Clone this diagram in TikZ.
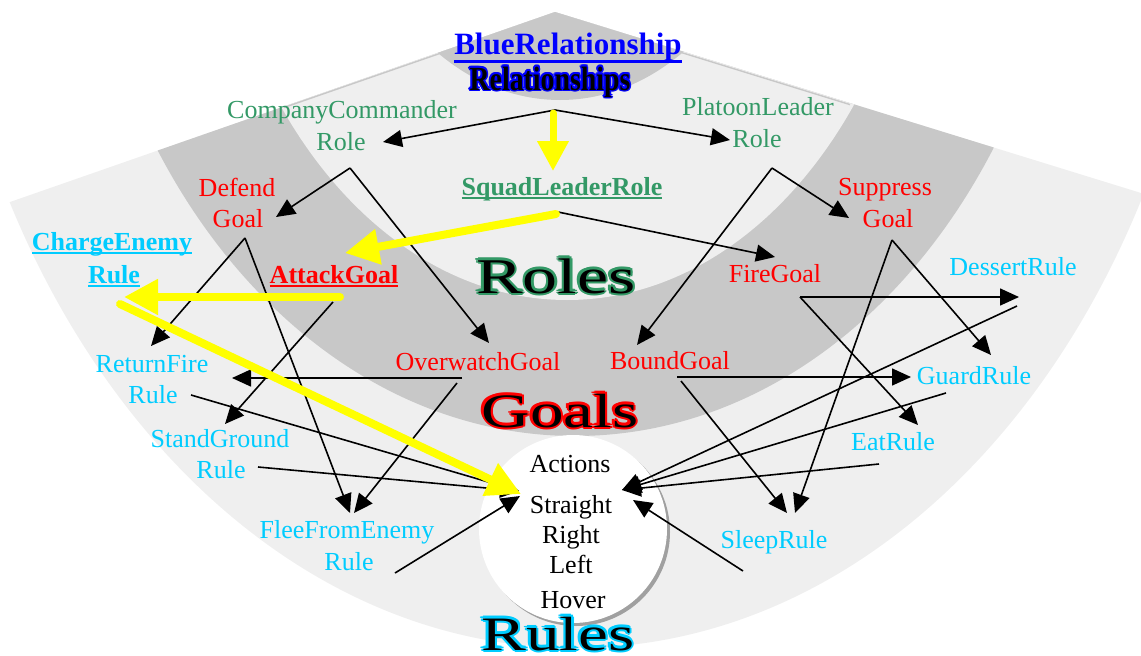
\documentclass[tikz,border=0pt]{standalone}
\usepackage{fontspec}
\setmainfont{Liberation Serif}
\newfontfamily\artfont{Liberation Serif}[FakeStretch=1.4]
\newfontfamily\relfont{Liberation Serif}[FakeStretch=1.07]
\usetikzlibrary{arrows.meta}
\definecolor{lg}{HTML}{EFEFEF}
\definecolor{dg}{HTML}{C8C8C8}
\definecolor{rimgray}{HTML}{C8C8C8}
\definecolor{rolegreen}{HTML}{339966}
\definecolor{goalred}{HTML}{FF0000}
\definecolor{rulecyan}{HTML}{00CCFF}
\definecolor{relblue}{HTML}{0000FF}
\definecolor{arrowyellow}{HTML}{FFFF00}
\definecolor{shadowgray}{HTML}{A0A0A0}
\newsavebox\ulbox
\newcommand\ulwith[3]{\sbox\ulbox{#3}\rlap{\rule[-#1]{\wd\ulbox}{#2}}\usebox\ulbox}
\newcommand\artlayer[4]{\rlap{\textcolor{#1}{\kern#2\raisebox{#3}{#4}}}}
\newcommand\artword[3][2.2pt]{\leavevmode
 \artlayer{#2}{#1}{0pt}{#3}%
 \artlayer{#2}{-#1}{0pt}{#3}%
 \artlayer{#2}{0pt}{#1}{#3}%
 \artlayer{#2}{0pt}{-#1}{#3}%
 \artlayer{#2}{\dimexpr#1*7/10\relax}{\dimexpr#1*7/10\relax}{#3}%
 \artlayer{#2}{-\dimexpr#1*7/10\relax}{\dimexpr#1*7/10\relax}{#3}%
 \artlayer{#2}{\dimexpr#1*7/10\relax}{-\dimexpr#1*7/10\relax}{#3}%
 \artlayer{#2}{-\dimexpr#1*7/10\relax}{-\dimexpr#1*7/10\relax}{#3}%
 \artlayer{#2}{-\dimexpr#1*13/10\relax}{\dimexpr#1*5/10\relax}{#3}%
 #3}
\tikzset{
 lbl/.style={inner sep=0pt, anchor=base, font=\fontsize{26}{31}\selectfont},
 boldlbl/.style={lbl, font=\fontsize{26}{31}\selectfont\bfseries},
 rolelbl/.style={lbl, text=rolegreen},
 goallbl/.style={lbl, text=goalred},
 rulelbl/.style={lbl, text=rulecyan},
 actlbl/.style={lbl, text=black},
 artlbl/.style={inner sep=0pt, anchor=base, font=\artfont\fontsize{48}{52}\selectfont},
 arr/.style={draw=black, line width=1.6pt, -{Triangle[length=19pt,width=17pt]}},
 yarr/.style={draw=arrowyellow, line width=8pt, line cap=round, -{Triangle[length=34pt,width=34pt]}},
}
\begin{document}
\begin{tikzpicture}[x=1pt,y=-1pt]
\useasboundingbox (0,0) rectangle (1141,656);
\clip (0,0) rectangle (1141,656);
% ---------- background bands ----------
\begin{scope}
 \clip (555,12) -- (-600,414.7) -- (-600,1200) -- (1800,1200) -- (1800,396.5) -- cycle;
 \fill[lg] (575,-200) ellipse [x radius=642, y radius=848];
 \fill[dg] (575,-200) ellipse [x radius=500, y radius=636];
 \fill[lg] (567,-200) ellipse [x radius=362, y radius=500];
 \fill[dg] (560,-200) ellipse [x radius=227, y radius=300];
\end{scope}
\draw[rimgray, line width=1.4pt] (284,107.5) -- (555,13.5) -- (850,104.6);
% ---------- actions circle ----------
\fill[shadowgray] (576,532) circle [radius=94];
\fill[white] (573,529) circle [radius=94];
% ---------- coordinates ----------
\coordinate (relsrc) at (555,110);
\coordinate (cctip) at (383,142);
\coordinate (pltip) at (730,140);
\coordinate (ysqsrc) at (553,113);
\coordinate (ysqtip) at (553,171);
\coordinate (ccsrc) at (350,168);
\coordinate (deftip) at (276,217);
\coordinate (owtip) at (489,343);
\coordinate (plsrc) at (772,168);
\coordinate (suptip) at (849,218);
\coordinate (bdtip) at (637,345);
\coordinate (sqsrc) at (558,212);
\coordinate (firetip) at (775,257);
\coordinate (yattsrc) at (556,214);
\coordinate (yatttip) at (345,253);
\coordinate (defsrc) at (245,238);
\coordinate (rftip) at (151,346);
\coordinate (fltipa) at (350,513);
\coordinate (attsrc) at (333,302);
\coordinate (sgtip) at (225,424);
\coordinate (ychsrc) at (340,297);
\coordinate (ychtip) at (124,297);
\coordinate (yactsrc) at (120,304);
\coordinate (yacttip) at (521,494);
\coordinate (owsrc) at (462,378);
\coordinate (rftipb) at (232,378);
\coordinate (owsrcb) at (457,383);
\coordinate (fltipb) at (354,513);
\coordinate (bdsrc) at (677,377);
\coordinate (grtip) at (911,377);
\coordinate (bdsrcb) at (681,381);
\coordinate (sltipa) at (787,513);
\coordinate (firesrc) at (800,297);
\coordinate (dstip) at (1019,297);
\coordinate (eattip) at (918,425);
\coordinate (supsrc) at (892,240);
\coordinate (grtipb) at (991,355);
\coordinate (sltipb) at (795,513);
\coordinate (dssrc) at (1017,306);
\coordinate (grsrc) at (946,393);
\coordinate (eatsrc) at (879,464);
\coordinate (slsrc) at (743,571);
\coordinate (acttipr) at (622,490);
\coordinate (acttiprb) at (633,500);
\coordinate (rfsrc) at (191,395);
\coordinate (sgsrc) at (258,467);
\coordinate (flsrc) at (395,573);
\coordinate (acttipl) at (519,491);
\coordinate (acttiplb) at (520,496);
% ---------- black connectors ----------
\draw[arr] (relsrc) -- (cctip);
\draw[arr] (relsrc) -- (pltip);
\draw[arr] (ccsrc) -- (deftip);
\draw[arr] (ccsrc) -- (owtip);
\draw[arr] (plsrc) -- (suptip);
\draw[arr] (plsrc) -- (bdtip);
\draw[arr] (sqsrc) -- (firetip);
\draw[arr] (defsrc) -- (rftip);
\draw[arr] (defsrc) -- (fltipa);
\draw[arr] (attsrc) -- (sgtip);
\draw[arr] (owsrc) -- (rftipb);
\draw[arr] (owsrcb) -- (fltipb);
\draw[arr] (bdsrc) -- (grtip);
\draw[arr] (bdsrcb) -- (sltipa);
\draw[arr] (firesrc) -- (dstip);
\draw[arr] (firesrc) -- (eattip);
\draw[arr] (supsrc) -- (grtipb);
\draw[arr] (supsrc) -- (sltipb);
\draw[arr] (dssrc) -- (acttipr);
\draw[arr] (grsrc) -- (acttipr);
\draw[arr] (eatsrc) -- (acttipr);
\draw[arr] (slsrc) -- (acttiprb);
\draw[arr] (rfsrc) -- (acttipl);
\draw[arr] (sgsrc) -- (acttipl);
\draw[arr] (flsrc) -- (acttiplb);
% ---------- yellow connectors ----------
\draw[yarr, line width=7pt, -{Triangle[length=30pt,width=30pt]}] (ysqsrc) -- (ysqtip);
\draw[yarr] (yattsrc) -- (yatttip);
\draw[yarr] (ychsrc) -- (ychtip);
\draw[yarr] (yactsrc) -- (yacttip);
% ---------- labels ----------
\node[lbl, font=\fontsize{31}{36}\selectfont\bfseries, text=relblue] (blue) at (568,54) {\ulwith{9pt}{3.5pt}{BlueRelationship}};
\node[inner sep=0pt, anchor=base, font=\relfont\bfseries\fontsize{26}{30}\selectfont] (rels) at (550,90) {\artword[1.5pt]{relblue}{\scalebox{1}[1.3]{Relationships}}};
\node[rolelbl] (cc1) at (342,118) {CompanyCommander};
\node[rolelbl] (cc2) at (341,150) {Role};
\node[rolelbl] (pl1) at (758,115) {PlatoonLeader};
\node[rolelbl] (pl2) at (757,147) {Role};
\node[boldlbl, text=rolegreen] (sq) at (562,195) {\ulwith{4pt}{2pt}{SquadLeaderRole}};
\node[goallbl] (def1) at (237,196) {Defend};
\node[goallbl] (def2) at (238,227) {Goal};
\node[goallbl] (sup1) at (885,195) {Suppress};
\node[goallbl] (sup2) at (888,227) {Goal};
\node[boldlbl, text=rulecyan] (ch1) at (112,250) {\ulwith{3.8pt}{2pt}{ChargeEnemy}};
\node[boldlbl, text=rulecyan] (ch2) at (114,283) {\ulwith{3.8pt}{2pt}{Rule}};
\node[boldlbl, text=goalred] (att) at (334,283) {\ulwith{3.8pt}{2pt}{AttackGoal}};
\node[goallbl] (fire) at (775,282) {FireGoal};
\node[rulelbl] (des) at (1013,275) {DessertRule};
\node[rulelbl] (rf1) at (152,372) {ReturnFire};
\node[rulelbl] (rf2) at (153,403) {Rule};
\node[goallbl] (ow) at (478,370) {OverwatchGoal};
\node[goallbl] (bd) at (670,369) {BoundGoal};
\node[rulelbl] (gr) at (974,384) {GuardRule};
\node[rulelbl] (sg1) at (220,447) {StandGround};
\node[rulelbl] (sg2) at (221,478) {Rule};
\node[rulelbl] (eat) at (893,450) {EatRule};
\node[rulelbl] (fl1) at (347,538) {FleeFromEnemy};
\node[rulelbl] (fl2) at (349,570) {Rule};
\node[rulelbl] (sl) at (774,548) {SleepRule};
\node[actlbl] (a1) at (570,472) {Actions};
\node[actlbl] (a2) at (571,513) {Straight};
\node[actlbl] (a3) at (571,543) {Right};
\node[actlbl] (a4) at (571,573) {Left};
\node[actlbl] (a5) at (573,608) {Hover};
% ---------- word art ----------
\node[artlbl, font=\artfont\fontsize{50}{54}\selectfont] (roles) at (556,293) {\artword{rolegreen}{Roles}};
\node[artlbl] (goals) at (560,427) {\artword{goalred}{Goals}};
\node[artlbl] (rules) at (558,650) {\artword{rulecyan}{Rules}};
\end{tikzpicture}
\end{document}
